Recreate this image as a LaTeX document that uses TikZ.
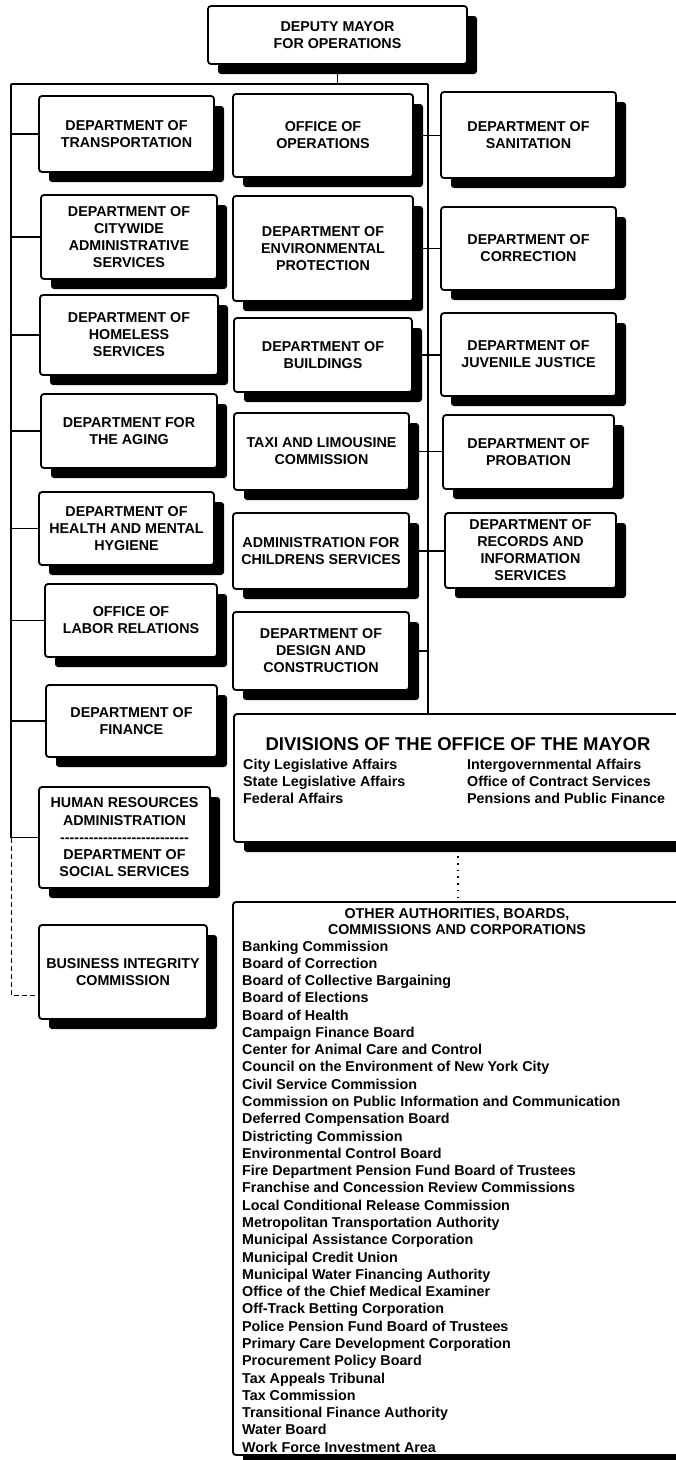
\documentclass[tikz,border=0pt]{standalone}
\usepackage{fontspec}
\setmainfont{Liberation Sans}
\usetikzlibrary{shadows}
\pgfdeclarelayer{paper}
\pgfdeclarelayer{bg}
\pgfsetlayers{paper,bg,main}
\newcommand\boxfont{\fontsize{14.3}{17}\selectfont\bfseries}
\newcommand\hrfont{\fontsize{14.3}{17.25}\selectfont\bfseries}
\newcommand\listfont{\fontsize{14.3}{17.28}\selectfont\bfseries}
\newcommand\othtitlefont{\fontsize{14.3}{16.2}\selectfont\bfseries}
\newcommand\titlefont{\fontsize{18.5}{22}\selectfont\bfseries}
\newcommand\dashrow{-{}-{}-{}-{}-{}-{}-{}-{}-{}-{}-{}-{}-{}-{}-{}-{}-{}-{}-{}-{}-{}-{}-{}-{}-{}-{}-{}}
\begin{document}
\begin{tikzpicture}[x=1pt,y=-1pt,
  orgbox/.style={draw, line width=1.8pt, rounded corners=3pt, fill=white,
    align=center, inner sep=0pt, font=\boxfont,
    drop shadow={shadow xshift=10pt, shadow yshift=-10pt, fill=black, opacity=1}},
  link/.style={line width=1.8pt},
  dashlink/.style={line width=1pt, dash pattern=on 5pt off 3pt},
  dotlink/.style={line width=1.6pt, dash pattern=on 1.5pt off 5.2pt},
  plain/.style={inner sep=0pt}]
\useasboundingbox (0,0) rectangle (676,1460);
\begin{pgfonlayer}{paper}
\fill[white] (0,0) rectangle (676,1460);
\end{pgfonlayer}

% top
\node[orgbox, minimum width=259, minimum height=58] (dep) at (337.5,35) {DEPUTY MAYOR\\FOR OPERATIONS};

% left column
\node[orgbox, minimum width=175, minimum height=76] (trans) at (126.5,134) {DEPARTMENT OF\\TRANSPORTATION};
\node[orgbox, minimum width=176, minimum height=84] (cityw) at (129,237) {DEPARTMENT OF\\CITYWIDE\\ADMINISTRATIVE\\SERVICES};
\node[orgbox, minimum width=178, minimum height=80] (homeless) at (129,335) {DEPARTMENT OF\\HOMELESS\\SERVICES};
\node[orgbox, minimum width=176, minimum height=74] (aging) at (129,431) {DEPARTMENT FOR\\THE AGING};
\node[orgbox, minimum width=175, minimum height=73] (health) at (126.5,528.5) {DEPARTMENT OF\\HEALTH AND MENTAL\\HYGIENE};
\node[orgbox, minimum width=172, minimum height=73] (labor) at (131,620.5) {OFFICE OF\\LABOR RELATIONS};
\node[orgbox, minimum width=171, minimum height=72] (finance) at (131.5,721) {DEPARTMENT OF\\FINANCE};
\node[orgbox, font=\hrfont, minimum width=171, minimum height=101] (hr) at (124.5,837.5) {HUMAN RESOURCES\\ADMINISTRATION\\\dashrow\\DEPARTMENT OF\\SOCIAL SERVICES};
\node[orgbox, minimum width=168, minimum height=94] (bic) at (123,972) {BUSINESS INTEGRITY\\COMMISSION};

% middle column
\node[orgbox, minimum width=180, minimum height=83] (ops) at (323,135.5) {OFFICE OF\\OPERATIONS};
\node[orgbox, minimum width=180, minimum height=105] (env) at (323,248.5) {DEPARTMENT OF\\ENVIRONMENTAL\\PROTECTION};
\node[orgbox, minimum width=178, minimum height=74] (bldg) at (323,355) {DEPARTMENT OF\\BUILDINGS};
\node[orgbox, minimum width=175, minimum height=77] (taxi) at (321.5,451.5) {TAXI AND LIMOUSINE\\COMMISSION};
\node[orgbox, minimum width=176, minimum height=76] (acs) at (321,551) {ADMINISTRATION FOR\\CHILDRENS SERVICES};
\node[orgbox, minimum width=176, minimum height=78] (design) at (321,651) {DEPARTMENT OF\\DESIGN AND\\CONSTRUCTION};

% right column
\node[orgbox, minimum width=175, minimum height=86] (san) at (528.5,135) {DEPARTMENT OF\\SANITATION};
\node[orgbox, minimum width=175, minimum height=83] (corr) at (528.5,248.5) {DEPARTMENT OF\\CORRECTION};
\node[orgbox, minimum width=175, minimum height=83] (juv) at (528.5,354.5) {DEPARTMENT OF\\JUVENILE JUSTICE};
\node[orgbox, minimum width=171, minimum height=74] (prob) at (528.5,452) {DEPARTMENT OF\\PROBATION};
\node[orgbox, minimum width=171, minimum height=75] (rec) at (530.5,550.5) {DEPARTMENT OF\\RECORDS AND\\INFORMATION\\SERVICES};

% divisions of the office of the mayor
\node[orgbox, minimum width=456, minimum height=128] (div) at (462,778) {};
\node[plain, anchor=base, font=\titlefont] (divtitle) at (458,750.6) {DIVISIONS OF THE OFFICE OF THE MAYOR};
\node[plain, anchor=base west, font=\listfont] (divleft) at (243,769) {\begin{tabular}[t]{@{}l@{}}City Legislative Affairs\\State Legislative Affairs\\Federal Affairs\end{tabular}};
\node[plain, anchor=base west, font=\listfont] (divright) at (467,769) {\begin{tabular}[t]{@{}l@{}}Intergovernmental Affairs\\Office of Contract Services\\Pensions and Public Finance\end{tabular}};

% other authorities
\node[orgbox, minimum width=457, minimum height=553] (oth) at (461.5,1178.5) {};
\node[plain, anchor=base, font=\othtitlefont] (othtitle) at (457,918) {\begin{tabular}[t]{@{}c@{}}OTHER AUTHORITIES, BOARDS,\\COMMISSIONS AND CORPORATIONS\end{tabular}};
\node[plain, anchor=base west, font=\listfont] (othlist) at (242,951) {\begin{tabular}[t]{@{}l@{}}
Banking Commission\\
Board of Correction\\
Board of Collective Bargaining\\
Board of Elections\\
Board of Health\\
Campaign Finance Board\\
Center for Animal Care and Control\\
Council on the Environment of New York City\\
Civil Service Commission\\
Commission on Public Information and Communication\\
Deferred Compensation Board\\
Districting Commission\\
Environmental Control Board\\
Fire Department Pension Fund Board of Trustees\\
Franchise and Concession Review Commissions\\
Local Conditional Release Commission\\
Metropolitan Transportation Authority\\
Municipal Assistance Corporation\\
Municipal Credit Union\\
Municipal Water Financing Authority\\
Office of the Chief Medical Examiner\\
Off-Track Betting Corporation\\
Police Pension Fund Board of Trustees\\
Primary Care Development Corporation\\
Procurement Policy Board\\
Tax Appeals Tribunal\\
Tax Commission\\
Transitional Finance Authority\\
Water Board\\
Work Force Investment Area
\end{tabular}};

% connector coordinates
\coordinate (L0) at (11,84);
\coordinate (R0) at (428,84);
\coordinate (bicjoin) at (39,995);
\coordinate (dotx) at (458,0);

\begin{pgfonlayer}{bg}
\draw[link] (dep.south) -- (dep.south |- L0);
\draw[link] (L0) -- (R0);
\draw[link] (R0) -- (R0 |- div.north);
\draw[link] (L0) -- (L0 |- hr.west);
\foreach \n in {trans,cityw,homeless,aging,health,labor,finance,hr}
  \draw[link] (\n.west) -- (\n.west -| L0);
\draw[link] (ops.east) -- (ops.east -| san.west);
\draw[link] (env.east) -- (env.east -| corr.west);
\draw[link] (bldg.east) -- (bldg.east -| juv.west);
\draw[link] (taxi.east) -- (taxi.east -| prob.west);
\draw[link] (acs.east) -- (acs.east -| rec.west);
\draw[link] (design.east) -- (design.east -| R0);
\draw[dashlink] (L0 |- hr.west) -- (L0 |- bicjoin) -- (bicjoin);
\draw[dotlink] (div.south -| dotx) -- (oth.north -| dotx);
\end{pgfonlayer}
\end{tikzpicture}
\end{document}
